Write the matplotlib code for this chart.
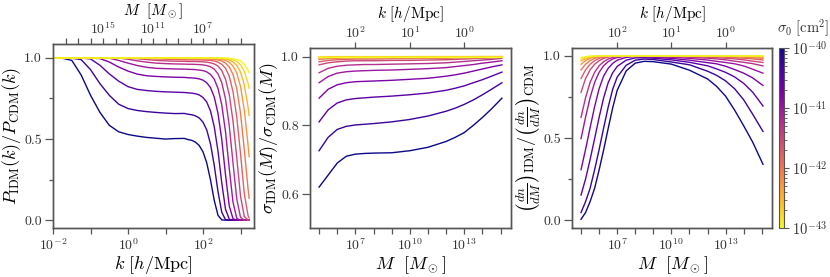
import numpy as np
import matplotlib
matplotlib.use('Agg')
import matplotlib.pyplot as plt
from matplotlib.colors import LogNorm
from matplotlib.cm import ScalarMappable
from matplotlib.ticker import NullLocator

plt.rcParams['font.family'] = 'serif'
plt.rcParams['font.serif'] = ['cmr10']
plt.rcParams['mathtext.fontset'] = 'cm'
plt.rcParams['axes.unicode_minus'] = False
plt.rcParams['axes.formatter.use_mathtext'] = True

# cross sections of the 13 models (cm^2)
sigma0 = [1e-40, 5.62e-41, 3.16e-41, 1.78e-41, 1e-41, 5.62e-42, 3.16e-42,
          1.78e-42, 1e-42, 5.62e-43, 3.16e-43, 1.78e-43, 1e-43]

# panel 1 : P_IDM/P_CDM vs log10 k
logk = [-2.0, -1.75, -1.5, -1.25, -1.0, -0.75, -0.5, -0.25, 0.0, 0.25, 0.5, 0.75,
        1.0, 1.25, 1.5, 1.6, 1.7, 1.8, 1.9, 2.0, 2.1, 2.2, 2.3, 2.4, 2.5, 2.6,
        2.7, 2.8, 2.9, 3.0, 3.1, 3.2, 3.23]
pk = [
    [1.0, 0.998, 0.985, 0.895, 0.77, 0.665, 0.585, 0.545, 0.528, 0.518, 0.51, 0.505, 0.5, 0.503, 0.504,
     0.497, 0.492, 0.481, 0.46, 0.421, 0.353, 0.248, 0.122, 0.03, 0.002, 0, 0, 0, 0, 0, 0, 0, 0],
    [1.0, 1.0, 0.998, 0.99, 0.928, 0.842, 0.77, 0.715, 0.688, 0.676, 0.669, 0.664, 0.66, 0.657, 0.658,
     0.653, 0.65, 0.643, 0.63, 0.604, 0.556, 0.47, 0.338, 0.176, 0.049, 0.003, 0, 0, 0, 0, 0, 0, 0],
    [1.0, 1.0, 1.0, 0.999, 0.994, 0.955, 0.902, 0.857, 0.823, 0.806, 0.799, 0.794, 0.791, 0.789, 0.787,
     0.785, 0.783, 0.779, 0.772, 0.756, 0.728, 0.673, 0.576, 0.425, 0.231, 0.068, 0.006, 0, 0, 0, 0, 0, 0],
    [1.0, 1.0, 1.0, 1.0, 0.999, 0.996, 0.975, 0.944, 0.919, 0.9, 0.89, 0.886, 0.883, 0.881, 0.88,
     0.878, 0.877, 0.875, 0.871, 0.863, 0.847, 0.817, 0.759, 0.658, 0.498, 0.28, 0.088, 0.009, 0, 0, 0, 0, 0],
    [1.0, 1.0, 1.0, 1.0, 1.0, 1.0, 0.998, 0.985, 0.968, 0.953, 0.942, 0.936, 0.934, 0.932, 0.931,
     0.93, 0.929, 0.928, 0.925, 0.922, 0.914, 0.898, 0.869, 0.812, 0.711, 0.545, 0.319, 0.111, 0.012, 0, 0, 0, 0],
    [1.0, 1.0, 1.0, 1.0, 1.0, 1.0, 1.0, 0.999, 0.992, 0.982, 0.974, 0.968, 0.965, 0.963, 0.962,
     0.961, 0.961, 0.96, 0.959, 0.957, 0.953, 0.946, 0.931, 0.902, 0.848, 0.748, 0.582, 0.354, 0.131, 0.018, 0, 0, 0],
    [1.0, 1.0, 1.0, 1.0, 1.0, 1.0, 1.0, 1.0, 0.999, 0.995, 0.99, 0.985, 0.982, 0.98, 0.979,
     0.978, 0.978, 0.978, 0.977, 0.976, 0.974, 0.97, 0.963, 0.95, 0.922, 0.869, 0.774, 0.611, 0.386, 0.15, 0.023, 0.001, 0],
    [1.0, 1.0, 1.0, 1.0, 1.0, 1.0, 1.0, 1.0, 1.0, 1.0, 0.997, 0.994, 0.992, 0.99, 0.989,
     0.988, 0.988, 0.988, 0.988, 0.987, 0.986, 0.985, 0.981, 0.974, 0.961, 0.936, 0.887, 0.793, 0.637, 0.412, 0.166, 0.03, 0.014],
    [1.0, 1.0, 1.0, 1.0, 1.0, 1.0, 1.0, 1.0, 1.0, 1.0, 1.0, 0.999, 0.997, 0.996, 0.995,
     0.994, 0.994, 0.994, 0.994, 0.994, 0.993, 0.992, 0.991, 0.987, 0.981, 0.968, 0.944, 0.899, 0.811, 0.661, 0.438, 0.197, 0.135],
    [1.0, 1.0, 1.0, 1.0, 1.0, 1.0, 1.0, 1.0, 1.0, 1.0, 1.0, 1.0, 0.999, 0.998, 0.998,
     0.997, 0.997, 0.997, 0.997, 0.997, 0.997, 0.996, 0.995, 0.994, 0.991, 0.985, 0.973, 0.95, 0.907, 0.824, 0.682, 0.467, 0.392],
    [1.0, 1.0, 1.0, 1.0, 1.0, 1.0, 1.0, 1.0, 1.0, 1.0, 1.0, 1.0, 1.0, 0.999, 0.999,
     0.998, 0.998, 0.998, 0.998, 0.998, 0.998, 0.998, 0.997, 0.997, 0.995, 0.992, 0.987, 0.976, 0.954, 0.913, 0.835, 0.7, 0.645],
    [1.0, 1.0, 1.0, 1.0, 1.0, 1.0, 1.0, 1.0, 1.0, 1.0, 1.0, 1.0, 1.0, 1.0, 1.0,
     0.999, 0.999, 0.999, 0.999, 0.999, 0.999, 0.999, 0.999, 0.998, 0.998, 0.996, 0.994, 0.989, 0.978, 0.958, 0.919, 0.845, 0.814],
    [1.0, 1.0, 1.0, 1.0, 1.0, 1.0, 1.0, 1.0, 1.0, 1.0, 1.0, 1.0, 1.0, 1.0, 1.0,
     1.0, 1.0, 1.0, 1.0, 1.0, 1.0, 1.0, 1.0, 1.0, 1.0, 0.999, 0.998, 0.995, 0.99, 0.981, 0.961, 0.925, 0.909],
]

# panel 2 : sigma_IDM/sigma_CDM vs log10 M
logM2 = [5.0, 5.5, 6.0, 6.5, 7.0, 7.5, 8.0, 9.0, 10.0, 11.0, 12.0, 12.5, 13.0, 13.5, 14.0, 14.5, 15.07]
sig = [
    [0.62, 0.655, 0.69, 0.71, 0.716, 0.718, 0.719, 0.72, 0.726, 0.736, 0.753, 0.765, 0.779, 0.80, 0.823, 0.848, 0.879],
    [0.726, 0.765, 0.788, 0.797, 0.801, 0.803, 0.805, 0.81, 0.817, 0.827, 0.841, 0.85, 0.861, 0.874, 0.889, 0.905, 0.924],
    [0.81, 0.845, 0.865, 0.874, 0.878, 0.88, 0.882, 0.885, 0.889, 0.894, 0.902, 0.908, 0.915, 0.924, 0.933, 0.943, 0.955],
    [0.879, 0.905, 0.918, 0.924, 0.927, 0.928, 0.929, 0.931, 0.934, 0.937, 0.943, 0.947, 0.952, 0.958, 0.964, 0.97, 0.976],
    [0.924, 0.942, 0.952, 0.956, 0.958, 0.959, 0.96, 0.961, 0.963, 0.965, 0.968, 0.971, 0.974, 0.977, 0.981, 0.984, 0.988],
    [0.953, 0.966, 0.972, 0.975, 0.976, 0.977, 0.977, 0.978, 0.979, 0.98, 0.982, 0.984, 0.986, 0.988, 0.99, 0.992, 0.995],
    [0.976, 0.982, 0.985, 0.987, 0.988, 0.988, 0.988, 0.989, 0.989, 0.99, 0.991, 0.992, 0.993, 0.994, 0.995, 0.996, 0.998],
    [0.985, 0.989, 0.991, 0.992, 0.993, 0.993, 0.993, 0.994, 0.994, 0.995, 0.995, 0.996, 0.996, 0.997, 0.998, 0.998, 0.999],
    [0.992, 0.994, 0.995, 0.996, 0.996, 0.996, 0.996, 0.997, 0.997, 0.997, 0.998, 0.998, 0.998, 0.999, 0.999, 0.999, 1.0],
    [0.996, 0.997, 0.998, 0.998, 0.998, 0.998, 0.998, 0.998, 0.999, 0.999, 0.999, 0.999, 0.999, 1.0, 1.0, 1.0, 1.0],
    [0.998, 0.999, 0.999, 0.999, 0.999, 0.999, 0.999, 0.999, 1.0, 1.0, 1.0, 1.0, 1.0, 1.0, 1.0, 1.0, 1.0],
    [0.999, 1.0, 1.0, 1.0, 1.0, 1.0, 1.0, 1.0, 1.0, 1.0, 1.0, 1.0, 1.0, 1.0, 1.0, 1.0, 1.0],
    [1.0, 1.0, 1.0, 1.0, 1.0, 1.0, 1.0, 1.0, 1.0, 1.0, 1.0, 1.0, 1.0, 1.0, 1.0, 1.0, 1.0],
]

# panel 3 : (dn/dM)_IDM/(dn/dM)_CDM vs log10 M
logM3 = [5.0, 5.25, 5.5, 5.75, 6.0, 6.25, 6.5, 6.75, 7.0, 7.5, 8.0, 8.5, 9.0, 10.0,
         11.0, 12.0, 12.5, 13.0, 13.5, 14.0, 14.5, 15.07]
hmf = [
    [0.005, 0.046, 0.112, 0.193, 0.305, 0.427, 0.557, 0.683, 0.79, 0.909, 0.956, 0.967, 0.965, 0.95,
     0.913, 0.86, 0.815, 0.755, 0.67, 0.575, 0.475, 0.34],
    [0.046, 0.112, 0.193, 0.306, 0.429, 0.56, 0.687, 0.796, 0.871, 0.943, 0.974, 0.981, 0.978, 0.963,
     0.946, 0.907, 0.882, 0.848, 0.80, 0.733, 0.645, 0.54],
    [0.153, 0.25, 0.368, 0.495, 0.625, 0.744, 0.836, 0.897, 0.936, 0.974, 0.988, 0.989, 0.986, 0.976,
     0.961, 0.94, 0.921, 0.90, 0.872, 0.833, 0.779, 0.695],
    [0.307, 0.43, 0.562, 0.69, 0.80, 0.877, 0.924, 0.954, 0.974, 0.991, 0.996, 0.994, 0.992, 0.985,
     0.974, 0.959, 0.952, 0.937, 0.917, 0.895, 0.866, 0.82],
    [0.496, 0.626, 0.745, 0.838, 0.90, 0.94, 0.965, 0.981, 0.99, 0.998, 0.999, 0.998, 0.996, 0.992,
     0.985, 0.975, 0.967, 0.96, 0.952, 0.939, 0.919, 0.895],
    [0.626, 0.745, 0.838, 0.90, 0.94, 0.965, 0.981, 0.99, 0.996, 0.999, 0.999, 0.999, 0.999, 0.996,
     0.992, 0.986, 0.982, 0.976, 0.968, 0.961, 0.953, 0.939],
    [0.778, 0.862, 0.915, 0.949, 0.971, 0.985, 0.993, 0.997, 0.999, 0.999, 0.999, 0.999, 0.999, 0.999,
     0.996, 0.992, 0.989, 0.986, 0.982, 0.976, 0.968, 0.96],
    [0.862, 0.915, 0.949, 0.971, 0.985, 0.993, 0.997, 0.999, 0.999, 0.999, 0.999, 0.999, 0.999, 0.999,
     0.999, 0.996, 0.995, 0.992, 0.989, 0.986, 0.982, 0.975],
    [0.915, 0.949, 0.971, 0.985, 0.993, 0.997, 1.0, 1.0, 1.0, 1.0, 1.0, 1.0, 1.0, 1.0,
     1.0, 0.999, 0.998, 0.996, 0.995, 0.992, 0.989, 0.985],
    [0.949, 0.971, 0.985, 0.993, 0.997, 1.0, 1.0, 1.0, 1.0, 1.0, 1.0, 1.0, 1.0, 1.0,
     1.0, 1.0, 1.0, 0.999, 0.998, 0.996, 0.995, 0.992],
    [0.969, 0.982, 0.991, 0.996, 0.999, 1.0, 1.0, 1.0, 1.0, 1.0, 1.0, 1.0, 1.0, 1.0,
     1.0, 1.0, 1.0, 1.0, 1.0, 0.999, 0.998, 0.996],
    [0.979, 0.99, 0.995, 0.999, 1.0, 1.0, 1.0, 1.0, 1.0, 1.0, 1.0, 1.0, 1.0, 1.0,
     1.0, 1.0, 1.0, 1.0, 1.0, 1.0, 1.0, 0.999],
    [0.99, 0.995, 0.999, 1.0, 1.0, 1.0, 1.0, 1.0, 1.0, 1.0, 1.0, 1.0, 1.0, 1.0,
     1.0, 1.0, 1.0, 1.0, 1.0, 1.0, 1.0, 1.0],
]

gray = '#555555'
norm = LogNorm(vmin=1e-43, vmax=1e-40)
cmap = plt.get_cmap('plasma_r')

fig = plt.figure(figsize=(8.3, 2.77), dpi=100)
W, H = 830.0, 277.0

def box(x0, x1, y0, y1):
    return [x0 / W, 1 - y1 / H, (x1 - x0) / W, (y1 - y0) / H]

ax1 = fig.add_axes(box(53, 254, 44.3, 228.3))
ax2 = fig.add_axes(box(310, 511, 47.7, 228.3))
ax3 = fig.add_axes(box(572, 772, 47.7, 228.3))
cax = fig.add_axes(box(779.3, 784.3, 48.3, 228.3))

def style(ax, pad=2.5):
    for s in ax.spines.values():
        s.set_color(gray)
        s.set_linewidth(1.0)
    ax.tick_params(which='both', direction='out', color=gray, labelsize=10,
                   labelcolor='#333333', pad=pad, width=0.9)
    ax.tick_params(axis='x', which='both', length=4.0)
    ax.tick_params(axis='y', which='major', length=5.5, pad=2.5)
    ax.tick_params(axis='y', which='minor', length=3.0)

# panel 1
for i in range(len(sigma0)):
    ax1.plot(10 ** np.array(logk), pk[i], color=cmap(norm(sigma0[i])), lw=1.0)
ax1.set_xscale('log')
ax1.set_xlim(1e-2, 10 ** 3.36)
ax1.set_ylim(-0.05, 1.084)
ax1.set_xticks([1e-2, 1e0, 1e2])
ax1.set_xticklabels([r'$10^{-2}$', r'$10^{0}$', r'$10^{2}$'])
ax1.set_xticks([1e-1, 1e1, 1e3], minor=True)
ax1.xaxis.set_minor_formatter(plt.NullFormatter())
ax1.set_yticks([0.0, 0.5, 1.0])
ax1.set_yticklabels(['0.0', '0.5', '1.0'])
ax1.set_yticks([0.25, 0.75], minor=True)
ax1.set_xlabel(r'$k\ [h/{\rm Mpc}]$', fontsize=13, labelpad=1)
ax1.set_ylabel(r'$P_{\rm IDM}(k)/P_{\rm CDM}(k)$', fontsize=13, labelpad=0.5)
style(ax1)

t1 = ax1.twiny()
t1.set_xscale('log')
t1.set_xlim(1e19, 10 ** (13 - 3 * 3.36))
t1.set_xticks([1e15, 1e11, 1e7])
t1.set_xticklabels([r'$10^{15}$', r'$10^{11}$', r'$10^{7}$'])
t1.set_xticks([10.0 ** e for e in range(4, 19) if e not in (15, 11, 7)], minor=True)
t1.xaxis.set_minor_formatter(plt.NullFormatter())
t1.set_xlabel(r'$M\ \ [M_\odot]$', fontsize=11, labelpad=4)
style(t1, pad=1.0)

# panel 2 and 3 share the mass axis
def mass_axis(ax):
    ax.set_xscale('log')
    ax.set_xlim(10 ** 4.5, 10 ** 15.57)
    ax.set_xticks([1e7, 1e10, 1e13])
    ax.set_xticklabels([r'$10^{7}$', r'$10^{10}$', r'$10^{13}$'])
    ax.set_xticks([10.0 ** e for e in range(5, 16) if e not in (7, 10, 13)], minor=True)
    ax.xaxis.set_minor_formatter(plt.NullFormatter())
    ax.set_xlabel(r'$M\ \ [M_\odot]$', fontsize=13, labelpad=1)
    style(ax)
    t = ax.twiny()
    t.set_xscale('log')
    t.set_xlim(10 ** ((13 - 4.5) / 3), 10 ** ((13 - 15.57) / 3))
    t.set_xticks([1e2, 1e1, 1e0])
    t.set_xticklabels([r'$10^{2}$', r'$10^{1}$', r'$10^{0}$'])
    t.xaxis.set_minor_locator(NullLocator())
    t.set_xlabel(r'$k\ [h/{\rm Mpc}]$', fontsize=11, labelpad=5)
    style(t, pad=1.0)

for i in range(len(sigma0)):
    ax2.plot(10 ** np.array(logM2), sig[i], color=cmap(norm(sigma0[i])), lw=1.0)
ax2.set_ylim(0.5, 1.026)
ax2.set_yticks([0.6, 0.8, 1.0])
ax2.set_yticklabels(['0.6', '0.8', '1.0'])
ax2.set_ylabel(r'$\sigma_{\rm IDM}(M)/\sigma_{\rm CDM}(M)$', fontsize=13, labelpad=1)
mass_axis(ax2)

for i in range(len(sigma0)):
    ax3.plot(10 ** np.array(logM3), hmf[i], color=cmap(norm(sigma0[i])), lw=1.0)
ax3.set_ylim(-0.05, 1.05)
ax3.set_yticks([0.0, 0.5, 1.0])
ax3.set_yticklabels(['0.0', '0.5', '1.0'])
ax3.set_yticks([0.25, 0.75], minor=True)
ax3.set_ylabel(r'$\left(\frac{dn}{dM}\right)_{\rm IDM}/\left(\frac{dn}{dM}\right)_{\rm CDM}$',
               fontsize=13, labelpad=1)
mass_axis(ax3)

sm = ScalarMappable(norm=norm, cmap=cmap)
cb = fig.colorbar(sm, cax=cax)
cb.set_ticks([1e-43, 1e-42, 1e-41, 1e-40])
cb.outline.set_edgecolor(gray)
cax.tick_params(which='both', color=gray, labelsize=10.5, labelcolor='#333333', pad=2)
cax.tick_params(which='major', length=3.5)
cax.tick_params(which='minor', length=2.0)
fig.text(829 / W, 1 - 28 / H, r'$\sigma_0\ [{\rm cm}^2]$', fontsize=10.5,
         ha='right', va='center', color='#333333')

fig.savefig('out.png', dpi=100)
